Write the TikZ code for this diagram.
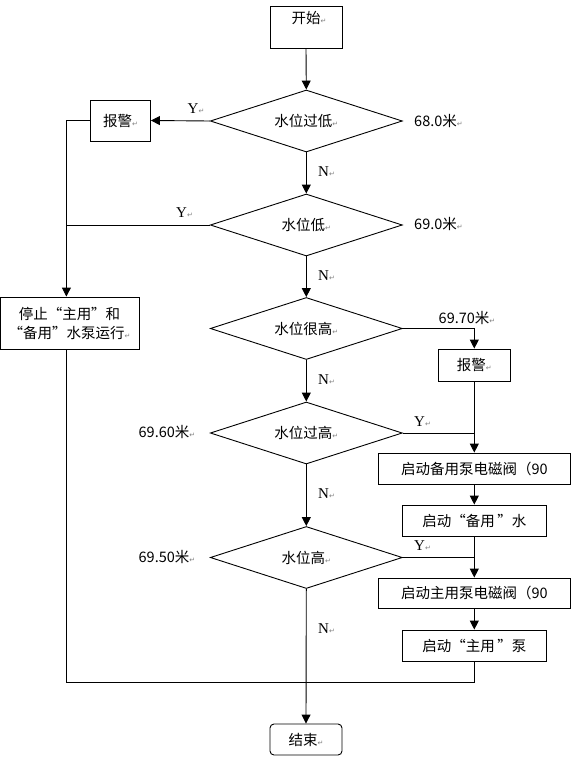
\documentclass[tikz,border=0pt]{standalone}
\usepackage{fontspec}
\setmainfont{Noto Sans CJK SC}
\newfontfamily\latinserif{Liberation Serif}
\newfontfamily\symfont{DejaVu Sans}
\usetikzlibrary{shapes.geometric,arrows.meta}
\newcommand\pmk{{\color{gray}\symfont\fontsize{7}{7}\selectfont ↵}}
\newcommand\ql{\makebox[1em][r]{“}}
\newcommand\qr{\makebox[1em][l]{”}}
\tikzset{
  every node/.style={font=\fontsize{14.5}{19}\selectfont},
  procbox/.style={draw, line width=0.9pt, inner sep=0pt},
  decbox/.style={draw, diamond, aspect=3.1, line width=0.9pt, inner sep=0pt, minimum width=192pt, minimum height=62pt},
  plain/.style={inner sep=0pt},
  yn/.style={inner sep=0pt, anchor=west, font=\latinserif\fontsize{15}{18}\selectfont},
  conn/.style={line width=0.9pt},
  arr/.style={line width=0.9pt, -{Triangle[length=9pt,width=9pt]}},
}
\begin{document}
\begin{tikzpicture}[x=1pt,y=-1pt]
\useasboundingbox (0,0) rectangle (588,760);
% nodes
\node[procbox, minimum width=72pt, minimum height=42pt] (s) at (306,27) {};
\node[plain] (stxt) at (309,18) {开始\pmk};
\node[decbox] (d1) at (306.3,121) {水位过低\pmk};
\node[procbox, minimum width=60pt, minimum height=41pt] (a1) at (120.5,120.5) {报警\pmk};
\node[decbox] (d2) at (306.3,225) {水位低\pmk};
\node[decbox] (d3) at (306.3,328.5) {水位很高\pmk};
\node[decbox] (d4) at (306.3,433) {水位过高\pmk};
\node[decbox] (d5) at (306.3,557.5) {水位高\pmk};
\node[procbox, minimum width=139pt, minimum height=52pt, align=center] (stop) at (69.5,323)
  {停止\ql 主用\qr 和\\\ql 备用\qr 水泵运行\pmk};
\node[procbox, minimum width=72pt, minimum height=32pt] (a2) at (474.3,365) {报警\pmk};
\node[procbox, minimum width=192pt, minimum height=31pt] (b5) at (474.3,468.5) {启动备用泵电磁阀（90};
\node[procbox, minimum width=144pt, minimum height=31pt] (b6) at (474.3,520.5) {启动\ql 备用\,\qr 水\hspace{1em}};
\node[procbox, minimum width=192pt, minimum height=30pt] (b7) at (474.3,593) {启动主用泵电磁阀（90};
\node[procbox, minimum width=144pt, minimum height=31pt] (b8) at (474.3,645.5) {启动\ql 主用\,\qr 泵\hspace{1em}};
\node[procbox, rounded corners=4pt, minimum width=72pt, minimum height=31pt] (e) at (306,739.5) {结束\pmk};
% side labels
\node[plain, anchor=west] (l1) at (414,121) {68.0米\pmk};
\node[plain, anchor=west] (l2) at (414,224) {69.0米\pmk};
\node[plain, anchor=west] (l3) at (438.5,318) {69.70米\pmk};
\node[plain, anchor=west] (l4) at (138.5,432) {69.60米\pmk};
\node[plain, anchor=west] (l5) at (138.5,557) {69.50米\pmk};
\node[yn] (y1) at (187.5,109) {Y\pmk};
\node[yn] (y2) at (176,213) {Y\pmk};
\node[yn] (y4) at (414,422) {Y\pmk};
\node[yn] (y5) at (414,546) {Y\pmk};
\node[yn] (n1) at (318,172) {N\pmk};
\node[yn] (n2) at (318,276) {N\pmk};
\node[yn] (n3) at (318,380) {N\pmk};
\node[yn] (n4) at (318,494) {N\pmk};
\node[yn] (n5) at (318,629) {N\pmk};
% junction coordinates
\coordinate (vl) at (66.4,0);
\coordinate (jr) at (474.3,682);
\coordinate (jl) at (66.4,682);
% connectors
\draw[arr] (s.south) -- (d1.north);
\draw[arr] (d1.south) -- (d2.north);
\draw[arr] (d2.south) -- (d3.north);
\draw[arr] (d3.south) -- (d4.north);
\draw[arr] (d4.south) -- (d5.north);
\draw[arr] (d5.south) -- (e.north);
\draw[arr] (d1.west) -- (a1.east);
\draw[arr] (a1.west) -| (vl |- stop.north);
\draw[conn] (d2.west) -- (d2.west -| vl);
\draw[arr] (d3.east) -| (a2.north);
\draw[arr] (a2.south) -- (b5.north);
\draw[conn] (d4.east) -- (d4.east -| a2.south);
\draw[arr] (b5.south) -- (b6.north);
\draw[arr] (b6.south) -- (b7.north);
\draw[conn] (d5.east) -- (d5.east -| b6.south);
\draw[arr] (b7.south) -- (b8.north);
\draw[conn] (b8.south) -- (jr) -- (jl) -- (vl |- stop.south);
\end{tikzpicture}
\end{document}
